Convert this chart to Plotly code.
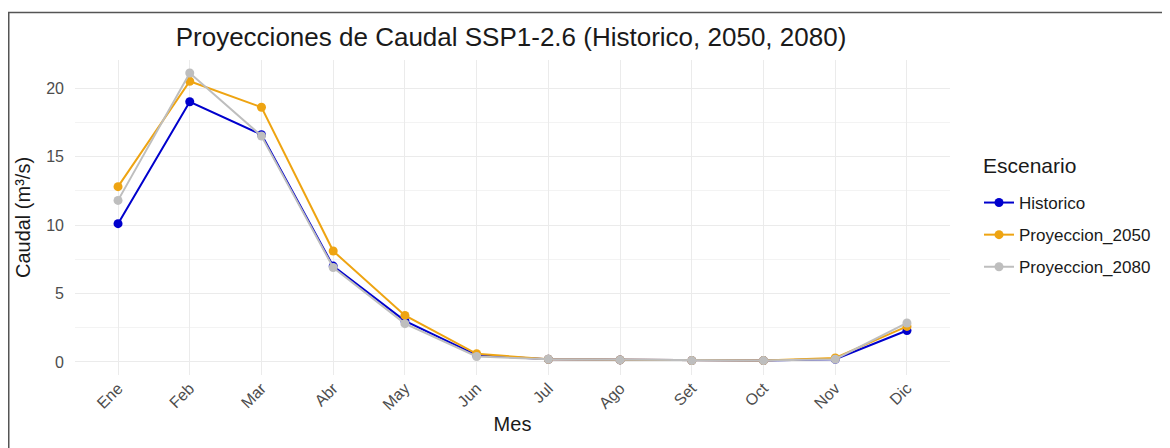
import plotly.graph_objects as go

meses = ["Ene", "Feb", "Mar", "Abr", "May", "Jun", "Jul", "Ago", "Set", "Oct", "Nov", "Dic"]
historico = [10.1, 19.0, 16.6, 7.0, 3.0, 0.5, 0.2, 0.15, 0.1, 0.1, 0.2, 2.3]
proy_2050 = [12.8, 20.5, 18.6, 8.1, 3.4, 0.6, 0.2, 0.15, 0.1, 0.1, 0.3, 2.6]
proy_2080 = [11.8, 21.1, 16.5, 6.9, 2.8, 0.4, 0.2, 0.15, 0.1, 0.1, 0.2, 2.85]
y_ticks = [0, 5, 10, 15, 20]

series = [
    ("Historico", historico, "#0000CD"),
    ("Proyeccion_2050", proy_2050, "#EEA412"),
    ("Proyeccion_2080", proy_2080, "#BEBEBE"),
]

FONT = "Liberation Sans, Arial, sans-serif"

fig = go.Figure()
for name, vals, col in series:
    fig.add_trace(go.Scatter(
        x=meses, y=vals, name=name, mode="lines+markers", legendgroup=name,
        line=dict(color=col, width=2),
        marker=dict(color=col, size=9),
    ))

# the page body adds an 8px offset; figure coords = page coords - 8
OFF = 8
W, H = 1162, 440
L, R, T, B = 75 - OFF, W - (950 - OFF), 60 - OFF, H - (375 - OFF)
pw, ph = W - L - R, H - T - B

def px(xp):  # page x -> paper
    return (xp - OFF - L) / pw

def py(yp):  # page y -> paper
    return (H - B - (yp - OFF)) / ph

fig.update_layout(
    width=W, height=H,
    margin=dict(l=L, r=R, t=T, b=B, autoexpand=False),
    paper_bgcolor="white", plot_bgcolor="white",
    font=dict(family=FONT, color="#000000"),
    title=dict(text="Proyecciones de Caudal SSP1-2.6 (Historico, 2050, 2080)",
               xref="paper", x=px(511), xanchor="center",
               yref="container", y=1 - (37 - OFF) / H, yanchor="middle",
               font=dict(size=26, color="#1a1a1a")),
    xaxis=dict(
        type="category", categoryorder="array", categoryarray=meses,
        range=[-0.6, 11.6], showgrid=True, gridcolor="#EBEBEB", gridwidth=1,
        zeroline=False, showline=False, ticks="", automargin=False,
        tickangle=-45, tickfont=dict(size=16, color="#4D4D4D"),
        title=dict(text="Mes", font=dict(size=20, color="#1a1a1a"), standoff=4),
    ),
    yaxis=dict(
        range=[-0.95, 22.05], tickvals=y_ticks, showgrid=True, automargin=False,
        gridcolor="#EBEBEB", gridwidth=1, zeroline=False, showline=False,
        ticks="", tickfont=dict(size=16, color="#4D4D4D"), ticklabelstandoff=10,
        minor=dict(tickvals=[2.5, 7.5, 12.5, 17.5], showgrid=True,
                   gridcolor="#F3F3F3", gridwidth=1),
        title=dict(text="Caudal (m³/s)", font=dict(size=20, color="#1a1a1a"), standoff=10),
    ),
    legend=dict(
        x=px(979), xanchor="left", y=py(185), yanchor="top",
        font=dict(size=17, color="#1a1a1a"), bgcolor="rgba(0,0,0,0)",
        tracegroupgap=7, itemwidth=30,
    ),
    showlegend=True,
)

fig.add_annotation(text="Escenario", xref="paper", yref="paper",
                   x=px(981), y=py(165), xanchor="left", yanchor="middle",
                   showarrow=False, font=dict(size=21, color="#1a1a1a"))

fig.add_shape(type="rect", xref="paper", yref="paper",
              x0=px(8.75), x1=px(1200), y0=py(480), y1=py(12.5),
              line=dict(color="#555555", width=1.5), fillcolor="rgba(0,0,0,0)",
              layer="below")

fig.write_html("out.html")
